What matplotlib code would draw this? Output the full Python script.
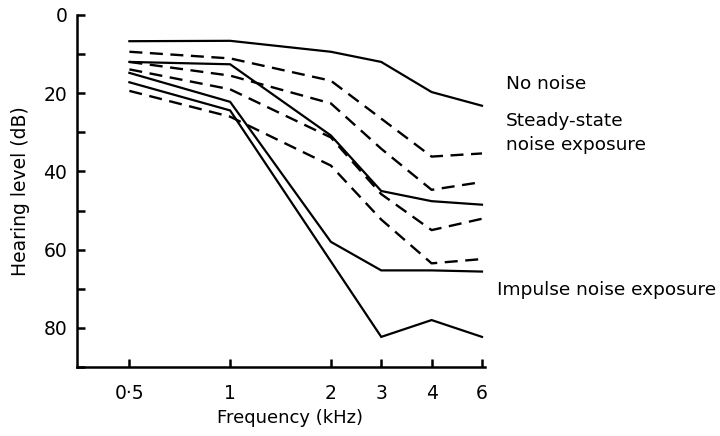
import numpy as np
import matplotlib
matplotlib.use("Agg")
import matplotlib.pyplot as plt
from matplotlib.ticker import FixedLocator, MultipleLocator

plt.rcParams['font.family'] = ['DejaVu Sans']

# ---- data ----
freqs = [0.5, 1, 2, 3, 4, 6]
freq_labels = ['0·5', '1', '2', '3', '4', '6']

solid_no_noise = [6.7, 6.6, 9.4, 12.0, 19.7, 23.2]
solid_impulse_1 = [12.0, 12.6, 30.8, 45.0, 47.6, 48.5]
solid_impulse_2 = [14.8, 22.2, 58.0, 65.3, 65.3, 65.6]
solid_impulse_3 = [17.2, 24.4, 63.0, 82.3, 78.0, 82.3]

dashed_steady_1 = [9.4, 11.1, 16.8, 26.5, 36.2, 35.4]
dashed_steady_2 = [12.0, 15.5, 22.6, 34.2, 44.7, 42.7]
dashed_steady_3 = [13.9, 19.0, 31.3, 45.8, 55.0, 52.1]
dashed_steady_4 = [19.4, 26.0, 38.5, 52.3, 63.5, 62.4]

solid_series = [solid_no_noise, solid_impulse_1, solid_impulse_2, solid_impulse_3]
dashed_series = [dashed_steady_1, dashed_steady_2, dashed_steady_3, dashed_steady_4]

# ---- audiogram frequency scale (octaves equal, 3 and 6 kHz at half-octave marks) ----
_F = np.array([0.0, 0.5, 1, 2, 3, 4, 6, 10])
_P = np.array([-1.0, 0, 1, 2, 2.5, 3, 3.5, 5.5])

def fwd(f):
    return np.interp(f, _F, _P)

def inv(p):
    return np.interp(p, _P, _F)

fig = plt.figure(figsize=(7.2, 4.36), dpi=100)
ax = fig.add_axes([77/720, 1 - 367/436, (485 - 77)/720, (367 - 15)/436])
ax.set_xscale('function', functions=(fwd, inv))

for s in solid_series:
    ax.plot(freqs, s, color='black', lw=1.6, solid_joinstyle='miter')
for s in dashed_series:
    ax.plot(freqs, s, color='black', lw=1.7, linestyle=(0, (5.5, 3.2)),
            dash_capstyle='butt')

ax.set_xlim(0.24, 6.06)
ax.set_ylim(90, 0)

ax.spines['top'].set_visible(False)
ax.spines['right'].set_visible(False)
for sp in ('left', 'bottom'):
    ax.spines[sp].set_linewidth(1.8)

ax.xaxis.set_major_locator(FixedLocator(freqs))
ax.set_xticklabels(freq_labels)
ax.xaxis.set_minor_locator(FixedLocator([]))
ax.yaxis.set_major_locator(MultipleLocator(20))
ax.yaxis.set_minor_locator(MultipleLocator(10))

ax.tick_params(axis='x', which='major', direction='in', length=6, width=1.8,
               pad=12, labelsize=13.5)
ax.tick_params(axis='y', which='major', direction='in', length=6, width=1.8,
               pad=7, labelsize=13.5)
ax.tick_params(axis='y', which='minor', direction='in', length=6, width=1.8)

ax.set_xlabel('Frequency (kHz)', fontsize=13)
ax.xaxis.set_label_coords((290 - 77) / 408, -(409 - 367) / 352, transform=ax.transAxes)
ax.set_ylabel('Hearing level (dB)', fontsize=13.5, labelpad=10)

fig.text(506/720, 1 - 84/436, 'No noise', fontsize=13.3, va='center', ha='left')
fig.text(506/720, 1 - 121/436, 'Steady-state', fontsize=13.3, va='center', ha='left')
fig.text(506/720, 1 - 145/436, 'noise exposure', fontsize=13.3, va='center', ha='left')
fig.text(497/720, 1 - 290/436, 'Impulse noise exposure', fontsize=13.3, va='center', ha='left')

fig.savefig('out.png', dpi=100)
